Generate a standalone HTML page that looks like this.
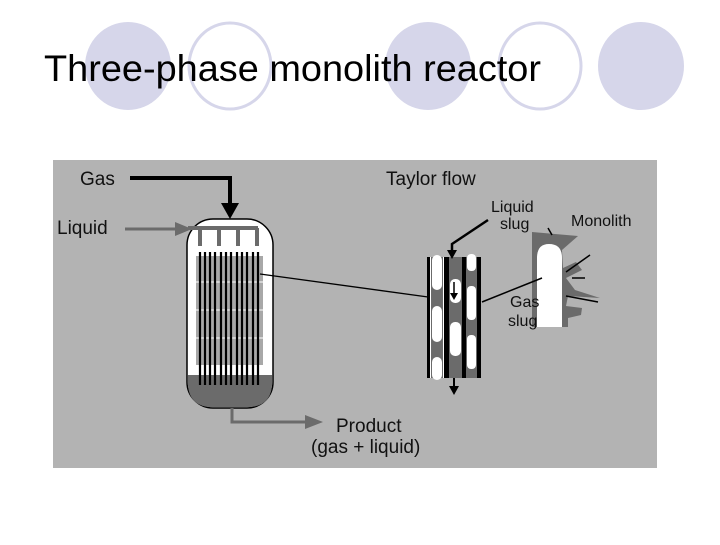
<!DOCTYPE html>
<html><head><style>
body{margin:0;background:#fff;width:720px;height:540px;overflow:hidden;font-family:"Liberation Sans",sans-serif}
</style></head><body>
<svg width="720" height="540" viewBox="0 0 720 540" xmlns="http://www.w3.org/2000/svg" font-family="Liberation Sans, sans-serif">
<ellipse cx="128" cy="66" rx="43" ry="44" fill="#d6d6ea"/>
<ellipse cx="230" cy="66" rx="41" ry="43" fill="none" stroke="#d6d6ea" stroke-width="3"/>
<ellipse cx="428" cy="66" rx="43" ry="44" fill="#d6d6ea"/>
<ellipse cx="540" cy="66" rx="41" ry="43" fill="none" stroke="#d6d6ea" stroke-width="3"/>
<ellipse cx="641" cy="66" rx="43" ry="44" fill="#d6d6ea"/>
<text x="44" y="81" font-size="37" textLength="497" lengthAdjust="spacingAndGlyphs">Three-phase monolith reactor</text>

<rect x="53" y="160" width="604" height="308" fill="#b3b3b3"/>
<!-- gas arrow -->
<polyline points="130,178 230,178 230,206" fill="none" stroke="#000" stroke-width="4"/>
<polygon points="221,203 239,203 230,219" fill="#000"/>
<!-- vessel -->
<rect x="187" y="219" width="86" height="189" rx="26" fill="#fff" stroke="#000" stroke-width="1.5"/>
<path d="M187.8,375 L272.2,375 L272.2,382 Q272,407 247,407.3 L213,407.3 Q188,407 187.8,382 Z" fill="#6b6b6b"/>
<line x1="125" y1="229" x2="182" y2="229" stroke="#6b6b6b" stroke-width="3"/>
<polygon points="175,222 192,229 175,236" fill="#6b6b6b"/>
<polyline points="188,228 258,228" stroke="#6b6b6b" stroke-width="4"/>
<g stroke="#6b6b6b" stroke-width="4"><line x1="200" y1="228" x2="200" y2="246"/><line x1="219" y1="228" x2="219" y2="246"/><line x1="238" y1="228" x2="238" y2="246"/><line x1="257" y1="228" x2="257" y2="246"/></g>
<rect x="196" y="256" width="67" height="109" fill="#a8a8a8"/>
<g stroke="#fff" stroke-width="1"><line x1="196" y1="282" x2="263" y2="282"/><line x1="196" y1="310" x2="263" y2="310"/><line x1="196" y1="338" x2="263" y2="338"/></g>
<g stroke="#000" stroke-width="2.2">
<line x1="200" y1="252" x2="200" y2="385"/><line x1="205" y1="252" x2="205" y2="385"/><line x1="210" y1="252" x2="210" y2="385"/><line x1="215" y1="252" x2="215" y2="385"/><line x1="221" y1="252" x2="221" y2="385"/><line x1="226" y1="252" x2="226" y2="385"/><line x1="231" y1="252" x2="231" y2="385"/><line x1="237" y1="252" x2="237" y2="385"/><line x1="242" y1="252" x2="242" y2="385"/><line x1="247" y1="252" x2="247" y2="385"/><line x1="253" y1="252" x2="253" y2="385"/><line x1="258" y1="252" x2="258" y2="385"/>
</g>
<polyline points="232,408 232,422 312,422" fill="none" stroke="#6b6b6b" stroke-width="3"/>
<polygon points="305,415 323,422 305,429" fill="#6b6b6b"/>
<line x1="260" y1="274" x2="428" y2="297" stroke="#000" stroke-width="1.3"/>
<!-- channels -->
<rect x="427" y="257" width="54" height="121" fill="#fff"/>
<rect x="431" y="257" width="12" height="121" fill="#6b6b6b"/>
<rect x="449" y="257" width="13" height="121" fill="#6b6b6b"/>
<rect x="466" y="257" width="11" height="121" fill="#6b6b6b"/>
<g fill="#fff">
<rect x="432" y="255" width="10" height="35" rx="5"/><rect x="432" y="306" width="10" height="36" rx="5"/><rect x="432" y="357" width="10" height="23" rx="5"/>
<rect x="450" y="279" width="11" height="24" rx="5"/><rect x="450" y="322" width="11" height="34" rx="5"/>
<rect x="467" y="254" width="9" height="17" rx="4"/><rect x="467" y="286" width="9" height="34" rx="4"/><rect x="467" y="335" width="9" height="34" rx="4"/>
</g>
<g fill="#000"><rect x="427" y="257" width="3" height="121"/><rect x="444" y="257" width="5" height="121"/><rect x="462" y="257" width="4" height="121"/><rect x="477" y="257" width="4" height="121"/></g>
<line x1="454" y1="282" x2="454" y2="295" stroke="#000" stroke-width="1.5"/><polygon points="450,293 458,293 454,300" fill="#000"/>
<line x1="454" y1="378" x2="454" y2="388" stroke="#000" stroke-width="2"/><polygon points="449,386 459,386 454,395" fill="#000"/>
<polyline points="488,220 452,244 452,252" fill="none" stroke="#000" stroke-width="2.5"/><polygon points="447,250 457,250 452,259" fill="#000"/>
<!-- monolith -->
<path d="M532,232 L578,236 L562,250 L563,268 L576,262 L582,270 L566,278 L575,290 L600,298 L568,296 L566,306 L582,308 L581,315 L568,318 L568,327 L532,327 Z" fill="#6b6b6b"/>
<path d="M537,327 L537,258 Q537,244 549,244 Q562,244 562,258 L562,327 Z" fill="#fff"/>
<g stroke="#000" stroke-width="1.5"><line x1="566" y1="272" x2="590" y2="255"/><line x1="572" y1="278" x2="585" y2="278"/><line x1="566" y1="296" x2="598" y2="302"/><line x1="548" y1="228" x2="552" y2="235"/></g>
<line x1="482" y1="302" x2="542" y2="278" stroke="#000" stroke-width="1.5"/>
<g font-size="19" fill="#111">
<text x="80" y="185">Gas</text>
<text x="57" y="234">Liquid</text>
<text x="386" y="185">Taylor flow</text>
<text x="491" y="212" font-size="16">Liquid</text>
<text x="500" y="229" font-size="16">slug</text>
<text x="571" y="226" font-size="16">Monolith</text>
<text x="510" y="307" font-size="16">Gas</text>
<text x="508" y="326" font-size="16">slug</text>
<text x="336" y="432">Product</text>
<text x="311" y="453">(gas + liquid)</text>
</g>
</svg>
</body></html>
